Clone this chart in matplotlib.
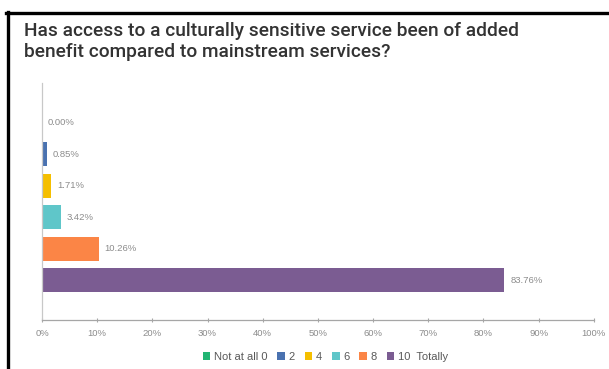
import matplotlib
matplotlib.use("Agg")
import matplotlib.pyplot as plt
from matplotlib.patches import Patch
from matplotlib.lines import Line2D

plt.rcParams['font.family'] = ['Liberation Sans', 'DejaVu Sans']

categories = ["Not at all 0", "2", "4", "6", "8", "10  Totally"]
values = [0.00, 0.85, 1.71, 3.42, 10.26, 83.76]
labels = ["0.00%", "0.85%", "1.71%", "3.42%", "10.26%", "83.76%"]
colors = ["#22b573", "#4a72b0", "#f5bf00", "#5fc6c9", "#fb8546", "#7b5c92"]
xticks = [0, 10, 20, 30, 40, 50, 60, 70, 80, 90, 100]
xticklabels = [f"{t}%" for t in xticks]
title = "Has access to a culturally sensitive service been of added\nbenefit compared to mainstream services?"

fig = plt.figure(figsize=(6.09, 3.69), dpi=100)
ax = fig.add_axes([0.069, 0.1328, 0.906, 0.642])

n = len(categories)
ypos = [n - 1 - i for i in range(n)]
for y, v, c, lab in zip(ypos, values, colors, labels):
    ax.barh(y, v, height=0.76, color=c, edgecolor='none')
    ax.text(v + 1.1, y, lab, va='center', ha='left', fontsize=6.8, color='#8c8c8c')

ax.set_xlim(0, 100)
ax.set_ylim(-1.26, n - 1 + 1.26)
ax.set_xticks(xticks)
ax.set_xticklabels(xticklabels, fontsize=6.8, color='#8c8c8c')
ax.set_yticks([])
for s in ['top', 'right']:
    ax.spines[s].set_visible(False)
ax.spines['left'].set_color('#c8c8c8')
ax.spines['bottom'].set_color('#a6a6a6')
ax.spines['left'].set_linewidth(0.9)
ax.spines['bottom'].set_linewidth(0.9)
ax.tick_params(axis='x', length=3, direction='inout', color='#a6a6a6', pad=5)

handles = [Patch(facecolor=c, edgecolor='none') for c in colors]
fig.legend(handles, categories, loc='center', bbox_to_anchor=(0.534, 0.032),
           ncol=n, frameon=False, fontsize=8, handlelength=0.7, handleheight=0.7,
           handletextpad=0.3, columnspacing=0.9, labelcolor='#595959')

fig.text(0.039, 0.888, title, fontsize=13.8, color='#333333', ha='left', va='center',
         linespacing=1.2, family=['Roboto', 'DejaVu Sans'], fontweight='medium')

# black frame lines (top and left)
fig.add_artist(Line2D([6/609, 1.0], [1 - 13/369, 1 - 13/369], transform=fig.transFigure,
                      color='black', linewidth=2.4))
fig.add_artist(Line2D([7.5/609, 7.5/609], [0, 1 - 12/369], transform=fig.transFigure,
                      color='black', linewidth=2.4))

fig.savefig("out.png", dpi=100)
